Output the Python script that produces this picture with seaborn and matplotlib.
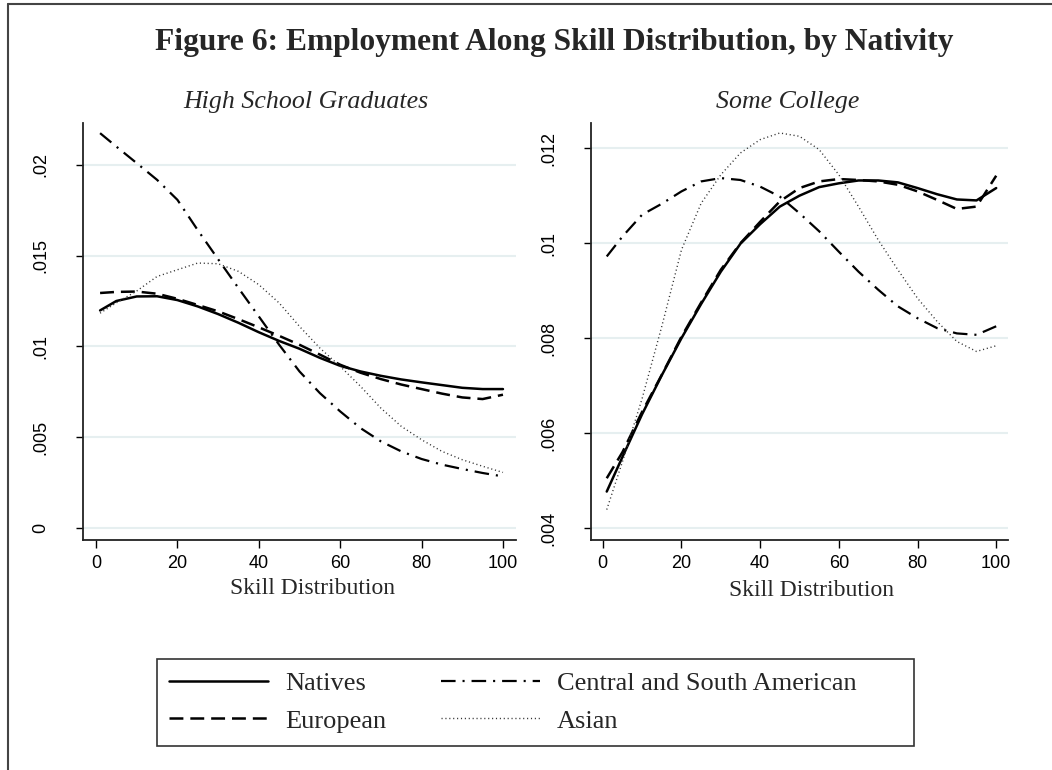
import matplotlib
matplotlib.use("Agg")
import matplotlib.pyplot as plt
from matplotlib.lines import Line2D
from matplotlib.patches import Rectangle
import numpy as np
import pandas as pd
import seaborn as sns

# ---- data: employment density along the skill distribution ----
skill = [1, 5, 10, 15, 20, 25, 30, 35, 40, 45, 50, 55, 60, 65, 70, 75, 80, 85, 90, 95, 100]

hs_natives = [0.01198, 0.01250, 0.01275, 0.01276, 0.01255, 0.01220, 0.01178, 0.01130, 0.01078, 0.01030,
              0.00987, 0.00937, 0.00893, 0.00862, 0.00838, 0.00818, 0.00802, 0.00787, 0.00772, 0.00765, 0.00765]
hs_european = [0.01294, 0.01300, 0.01302, 0.01290, 0.01262, 0.01228, 0.01193, 0.01150, 0.01105, 0.01058,
               0.01009, 0.00955, 0.00899, 0.00855, 0.00820, 0.00790, 0.00765, 0.00740, 0.00719, 0.00710, 0.00734]
hs_csa = [0.02174, 0.02100, 0.02009, 0.01917, 0.01807, 0.01640, 0.01480, 0.01321, 0.01165, 0.01009,
          0.00862, 0.00743, 0.00642, 0.00550, 0.00477, 0.00422, 0.00380, 0.00349, 0.00325, 0.00303, 0.00284]
hs_asian = [0.01183, 0.01240, 0.01305, 0.01385, 0.01422, 0.01459, 0.01455, 0.01413, 0.01340, 0.01239,
            0.01110, 0.00991, 0.00890, 0.00780, 0.00660, 0.00560, 0.00486, 0.00422, 0.00376, 0.00340, 0.00306]

sc_natives = [0.00477, 0.00550, 0.00640, 0.00722, 0.00800, 0.00872, 0.00940, 0.00999, 0.01040, 0.01077,
              0.01100, 0.01118, 0.01126, 0.01132, 0.01132, 0.01128, 0.01116, 0.01103, 0.01092, 0.01090, 0.01116]
sc_european = [0.00505, 0.00560, 0.00645, 0.00723, 0.00803, 0.00875, 0.00944, 0.01000, 0.01045, 0.01088,
               0.01116, 0.01130, 0.01135, 0.01133, 0.01130, 0.01123, 0.01109, 0.01091, 0.01072, 0.01077, 0.01142]
sc_csa = [0.00972, 0.01014, 0.01060, 0.01083, 0.01109, 0.01130, 0.01137, 0.01133, 0.01119, 0.01098,
          0.01063, 0.01025, 0.00982, 0.00940, 0.00902, 0.00867, 0.00842, 0.00821, 0.00810, 0.00807, 0.00825]
sc_asian = [0.00439, 0.00540, 0.00673, 0.00825, 0.00986, 0.01084, 0.01144, 0.01190, 0.01218, 0.01232,
            0.01225, 0.01197, 0.01144, 0.01077, 0.01007, 0.00944, 0.00884, 0.00835, 0.00793, 0.00772, 0.00784]

groups = ["Natives", "European", "Central and South American", "Asian"]

x_ticks = [0, 20, 40, 60, 80, 100]
hs_yticks = [0, 0.005, 0.01, 0.015, 0.02]
hs_ylabels = ["0", ".005", ".01", ".015", ".02"]
sc_yticks = [0.004, 0.006, 0.008, 0.01, 0.012]
sc_ylabels = [".004", ".006", ".008", ".01", ".012"]

# ---- style ----
sns.set_style("ticks")
plt.rcParams["font.family"] = ["Liberation Serif", "DejaVu Serif"]
plt.rcParams["lines.scale_dashes"] = False

line_styles = {
    "Natives": dict(color="black", linewidth=1.8, linestyle="-"),
    "European": dict(color="black", linewidth=1.8, linestyle=(0, (10, 5))),
    "Central and South American": dict(color="black", linewidth=1.6, linestyle=(0, (10.5, 5, 1.5, 5))),
    "Asian": dict(color="#333333", linewidth=1.0, linestyle=(0, (0.8, 2.0))),
}

W, H = 1052, 770
fig = plt.figure(figsize=(W / 100, H / 100), dpi=100)
fig.patch.set_facecolor("white")


def fx(px):
    return px / W


def fy(py):
    return 1 - py / H


ax_hs = fig.add_axes([fx(83), fy(540), 433 / W, 417 / H])
ax_sc = fig.add_axes([fx(591), fy(540), 417 / W, 417 / H])

panels = [
    (ax_hs, "High School Graduates", [hs_natives, hs_european, hs_csa, hs_asian],
     (-3.2, 103.2), (-0.00066, 0.0223), hs_yticks, hs_ylabels, 0.515, (0.531, -0.090)),
    (ax_sc, "Some College", [sc_natives, sc_european, sc_csa, sc_asian],
     (-3.0, 103.0), (0.00375, 0.01253), sc_yticks, sc_ylabels, 0.472, (0.528, -0.097)),
]

for ax, name, series, xlim, ylim, yt, ylab, tx, lpos in panels:
    for yv in yt:
        ax.axhline(yv, color="#e6eff0", linewidth=1.5, zorder=0)
    for g, vals in zip(groups, series):
        df = pd.DataFrame({"skill": skill, "share": vals})
        sns.lineplot(data=df, x="skill", y="share", ax=ax, **line_styles[g])
    ax.set_xlim(*xlim)
    ax.set_ylim(*ylim)
    ax.set_xticks(x_ticks)
    ax.set_xticklabels([str(t) for t in x_ticks], family="Liberation Sans", fontsize=13)
    ax.set_yticks(yt)
    ax.set_yticklabels(ylab, family="Liberation Sans", fontsize=13, rotation=90, va="center")
    ax.tick_params(axis="y", length=5, width=1, pad=19, colors="black")
    ax.tick_params(axis="x", length=5.5, width=1, pad=5.5, colors="black")
    for s in ("top", "right"):
        ax.spines[s].set_visible(False)
    for s in ("left", "bottom"):
        ax.spines[s].set_linewidth(1.3)
        ax.spines[s].set_color("#222222")
    ax.set_facecolor("white")
    ax.set_xlabel("Skill Distribution", fontsize=17)
    ax.set_ylabel("")
    ax.set_title(name, fontsize=18.6, fontstyle="italic", y=1.036, pad=0, x=tx)
    ax.xaxis.set_label_coords(*lpos)

fig.text(fx(554), fy(50), "Figure 6: Employment Along Skill Distribution, by Nativity",
         ha="center", va="baseline", fontsize=22.7, fontweight="bold")

# legend
handles = [Line2D([], [], **line_styles[g]) for g in groups]
fig.legend(handles, groups, ncol=2, loc="upper left", bbox_to_anchor=(fx(169), fy(672)),
           frameon=False, fontsize=19, handlelength=3.75, handletextpad=0.64,
           columnspacing=2.08, labelspacing=0.52, borderpad=0, borderaxespad=0)
fig.add_artist(Rectangle((fx(157), fy(746)), 757 / W, 87 / H, transform=fig.transFigure,
                         fill=False, edgecolor="#333333", linewidth=1.2))

# graph region outline
fig.add_artist(Line2D([fx(8), 1], [fy(4), fy(4)], transform=fig.transFigure, color="#444444", linewidth=1.5))
fig.add_artist(Line2D([fx(8), fx(8)], [fy(4), 0], transform=fig.transFigure, color="#444444", linewidth=1.5))

fig.savefig("out.png", dpi=100, facecolor="white")
